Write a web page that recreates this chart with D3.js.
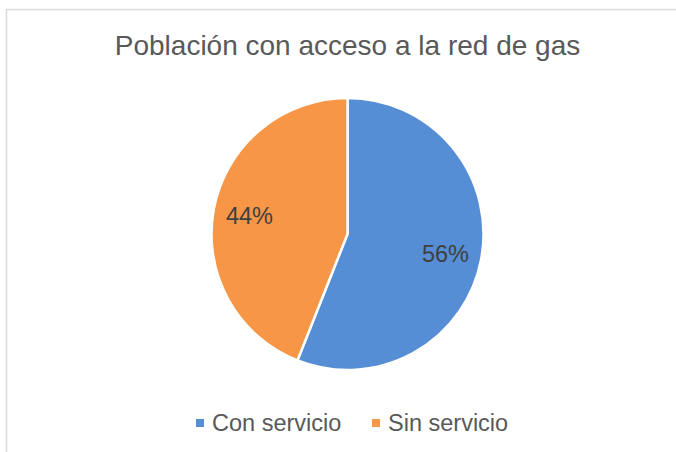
<!DOCTYPE html>
<html>
<head>
<meta charset="utf-8">
<title>Población con acceso a la red de gas</title>
<script src="https://cdn.jsdelivr.net/npm/d3@7"></script>
<style>
	body { margin: 0; background: white; }
	svg { display: block; font-family: "Liberation Sans", Arial, sans-serif; }
	.title { fill: #595959; font-size: 28px; }
	.pct { fill: #404040; font-size: 23.5px; }
	.legend text { fill: #595959; font-size: 23.5px; }
</style>
</head>
<body>
<svg id="chart"></svg>
<script>
	var categories = ["Con servicio", "Sin servicio"];
	var values = [56, 44];
	var colors = ["#558ED5", "#F79646"];

	var width = 676, height = 452,
		cx = 347.5, cy = 234, radius = 136;

	var svg = d3.select("#chart").attr("width", width).attr("height", height);

	// chart area border (runs off the right / bottom edge)
	svg.append("rect")
		.attr("x", 6.5).attr("y", 9.5)
		.attr("width", width).attr("height", height)
		.attr("fill", "white")
		.attr("stroke", "#d9d9d9")
		.attr("stroke-width", 1.5);

	svg.append("text")
		.attr("class", "title")
		.attr("x", cx).attr("y", 55)
		.attr("text-anchor", "middle")
		.text("Población con acceso a la red de gas");

	var color = d3.scaleOrdinal().domain(categories).range(colors);

	var pie = d3.pie().sort(null).value(d => d.value);
	var data = pie(categories.map((c, i) => ({ name: c, value: values[i] })));

	var arc = d3.arc().innerRadius(0).outerRadius(radius);
	var labelArc = d3.arc().innerRadius(radius * 0.82).outerRadius(radius * 0.82);

	var g = svg.append("g").attr("transform", "translate(" + cx + "," + cy + ")");

	g.selectAll("path")
		.data(data).enter().append("path")
			.attr("d", arc)
			.attr("fill", d => color(d.data.name))
			.attr("stroke", "white")
			.attr("stroke-width", 2.5)
			.attr("stroke-linejoin", "miter");

	// labels placed like Excel "best fit" (inside near the rim)
	var labelPos = [[98, 28], [-98, -10]];
	g.selectAll("text.pct")
		.data(data).enter().append("text")
			.attr("class", "pct")
			.attr("x", (d, i) => labelPos[i][0])
			.attr("y", (d, i) => labelPos[i][1])
			.attr("text-anchor", "middle")
			.text(d => d.data.value + "%");

	var legend = svg.append("g").attr("class", "legend");
	var legX = [196, 372];
	var items = legend.selectAll("g")
		.data(categories).enter().append("g")
			.attr("transform", (d, i) => "translate(" + legX[i] + ",0)");
	items.append("rect")
		.attr("x", 0).attr("y", 419)
		.attr("width", 8).attr("height", 8)
		.attr("fill", d => color(d));
	items.append("text")
		.attr("x", 16).attr("y", 431)
		.text(d => d);
</script>
</body>
</html>
